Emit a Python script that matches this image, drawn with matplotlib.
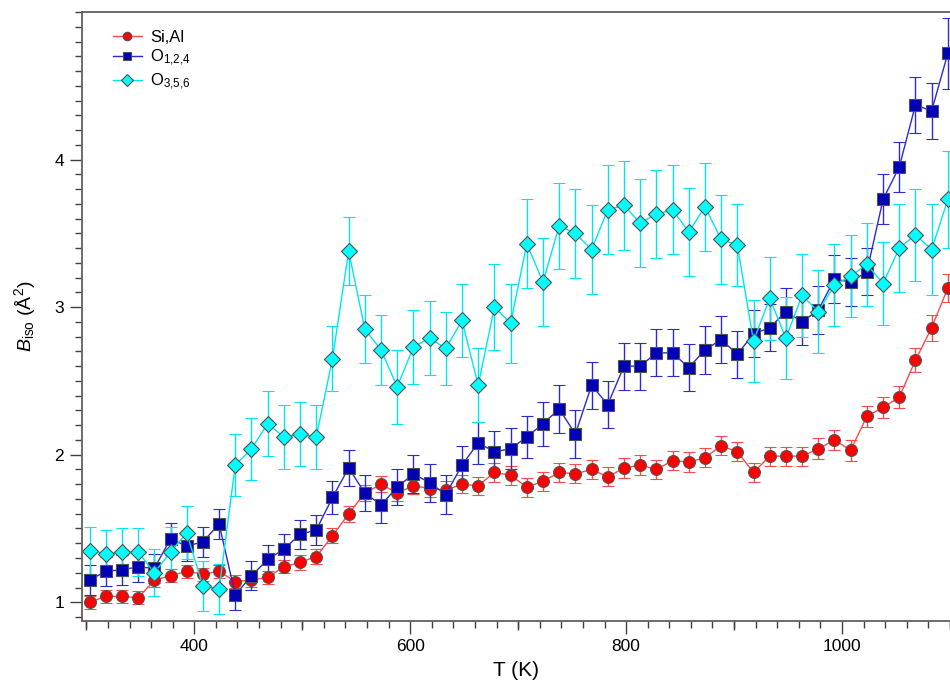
import matplotlib
matplotlib.use("Agg")
import matplotlib.pyplot as plt
from matplotlib.ticker import MultipleLocator, FixedLocator

plt.rcParams['font.family'] = ['Liberation Sans', 'DejaVu Sans']
plt.rcParams['mathtext.fontset'] = 'custom'
plt.rcParams['mathtext.rm'] = 'Liberation Sans'
plt.rcParams['mathtext.it'] = 'Liberation Sans:italic'

# ---------------- data ----------------
temperature = [303, 318, 333, 348, 363, 378, 393, 408, 423, 438,
               453, 468, 483, 498, 513, 528, 543, 558, 573, 588,
               603, 618, 633, 648, 663, 678, 693, 708, 723, 738,
               753, 768, 783, 798, 813, 828, 843, 858, 873, 888,
               903, 918, 933, 948, 963, 978, 993, 1008, 1023, 1038,
               1053, 1068, 1083, 1098]

b_sial = [1.00, 1.04, 1.04, 1.03, 1.15, 1.18, 1.21, 1.19, 1.21, 1.14,
          1.15, 1.17, 1.24, 1.27, 1.31, 1.45, 1.60, 1.74, 1.80, 1.74,
          1.79, 1.77, 1.76, 1.80, 1.79, 1.88, 1.86, 1.78, 1.82, 1.88,
          1.87, 1.90, 1.85, 1.91, 1.93, 1.90, 1.96, 1.95, 1.98, 2.06,
          2.02, 1.88, 1.99, 1.99, 1.99, 2.04, 2.10, 2.03, 2.26, 2.32,
          2.39, 2.64, 2.86, 3.13]
err_sial = [0.045, 0.045, 0.045, 0.045, 0.045, 0.045, 0.045, 0.045, 0.045, 0.045,
            0.045, 0.045, 0.045, 0.05, 0.05, 0.05, 0.055, 0.055, 0.055, 0.055,
            0.055, 0.055, 0.06, 0.06, 0.06, 0.065, 0.065, 0.065, 0.065, 0.065,
            0.065, 0.065, 0.065, 0.065, 0.065, 0.065, 0.065, 0.065, 0.065, 0.065,
            0.065, 0.065, 0.065, 0.065, 0.065, 0.07, 0.07, 0.07, 0.07, 0.07,
            0.075, 0.08, 0.09, 0.095]

b_o124 = [1.15, 1.21, 1.22, 1.24, 1.23, 1.43, 1.38, 1.41, 1.53, 1.05,
          1.18, 1.29, 1.36, 1.46, 1.49, 1.71, 1.91, 1.74, 1.66, 1.78,
          1.87, 1.81, 1.73, 1.93, 2.08, 2.02, 2.04, 2.12, 2.21, 2.31,
          2.14, 2.47, 2.34, 2.60, 2.60, 2.69, 2.69, 2.59, 2.71, 2.78,
          2.68, 2.82, 2.86, 2.97, 2.90, 2.98, 3.19, 3.17, 3.24, 3.73,
          3.95, 4.37, 4.33, 4.72]
err_o124 = [0.10, 0.10, 0.10, 0.10, 0.10, 0.11, 0.10, 0.10, 0.10, 0.10,
            0.10, 0.10, 0.10, 0.10, 0.10, 0.11, 0.12, 0.12, 0.12, 0.12,
            0.13, 0.13, 0.13, 0.13, 0.14, 0.14, 0.14, 0.14, 0.15, 0.16,
            0.16, 0.16, 0.16, 0.16, 0.16, 0.16, 0.16, 0.16, 0.16, 0.16,
            0.16, 0.16, 0.16, 0.16, 0.16, 0.16, 0.16, 0.16, 0.16, 0.17,
            0.17, 0.19, 0.19, 0.24]

b_o356 = [1.35, 1.33, 1.34, 1.34, 1.20, 1.34, 1.47, 1.11, 1.09, 1.93,
          2.04, 2.21, 2.12, 2.14, 2.12, 2.65, 3.38, 2.85, 2.71, 2.46,
          2.73, 2.79, 2.72, 2.91, 2.47, 3.00, 2.89, 3.43, 3.17, 3.55,
          3.50, 3.39, 3.66, 3.69, 3.57, 3.63, 3.66, 3.51, 3.68, 3.46,
          3.42, 2.77, 3.06, 2.79, 3.08, 2.97, 3.15, 3.21, 3.29, 3.16,
          3.40, 3.49, 3.39, 3.73]
err_o356 = [0.16, 0.16, 0.16, 0.16, 0.16, 0.17, 0.18, 0.17, 0.17, 0.21,
            0.21, 0.22, 0.22, 0.22, 0.22, 0.22, 0.23, 0.23, 0.24, 0.25,
            0.25, 0.25, 0.25, 0.25, 0.25, 0.29, 0.27, 0.30, 0.30, 0.29,
            0.30, 0.30, 0.30, 0.30, 0.30, 0.30, 0.30, 0.30, 0.30, 0.30,
            0.28, 0.28, 0.28, 0.28, 0.28, 0.28, 0.28, 0.28, 0.28, 0.28,
            0.30, 0.31, 0.31, 0.33]

series = [
    ("Si,Al", b_sial, err_sial, 'o', '#ff0000', '#ff4a4a'),
    (r"O$_{1{,}2{,}4}$", b_o124, err_o124, 's', '#0000b4', '#2b2bd0'),
    (r"O$_{3{,}5{,}6}$", b_o356, err_o356, 'D', '#00ffff', '#00e6ee'),
]

# ---------------- figure ----------------
fig = plt.figure(figsize=(9.5, 6.84), dpi=100)
ax = fig.add_axes([82 / 950, (684 - 621) / 684, 868 / 950, (621 - 12) / 684])

handles = []
for label, vals, errs, mk, mfc, lc in series:
    cont = ax.errorbar(temperature, vals, yerr=errs, fmt='-', marker=mk, color=lc,
                       mfc=mfc, mec='#505050', mew=0.8, ms=8.5, lw=1.0,
                       ecolor=lc, elinewidth=1.0, capsize=4, capthick=1.0,
                       label=label)
    handles.append(cont[0])

ax.set_xlim(296, 1100)
ax.set_ylim(0.873, 5.0)

ax.xaxis.set_major_locator(FixedLocator([400, 600, 800, 1000]))
ax.xaxis.set_minor_locator(MultipleLocator(20))
ax.yaxis.set_major_locator(FixedLocator([1, 2, 3, 4]))
ax.yaxis.set_minor_locator(MultipleLocator(0.1))

ax.tick_params(axis='both', which='major', direction='out', length=9,
               width=1.0, color='#404040', labelsize=12.5, pad=4)
ax.tick_params(axis='both', which='minor', direction='out', length=4.8,
               width=1.0, color='#404040')
ax.tick_params(top=False, right=False, which='both')

# medium ticks every 100 K on the x axis
sec = ax.secondary_xaxis('bottom')
sec.xaxis.set_major_locator(FixedLocator([300, 500, 700, 900, 1100]))
sec.xaxis.set_minor_locator(FixedLocator([]))
sec.tick_params(axis='x', which='major', direction='out', length=6.7,
                width=1.0, color='#404040', labelbottom=False)
sec.spines['bottom'].set_visible(False)

for side in ['left', 'bottom', 'top']:
    ax.spines[side].set_color('#606060')
    ax.spines[side].set_linewidth(1.3)
ax.spines['right'].set_visible(False)

ax.set_xlabel('T (K)', fontsize=15, labelpad=5)
ax.set_ylabel(r'$B_{\mathrm{iso}}$ (Å$^2$)', fontsize=14, labelpad=12)

ax.legend(handles=handles, labels=[s[0] for s in series],
          loc='upper left', bbox_to_anchor=(0.022, 0.99), frameon=False,
          fontsize=12, handlelength=1.75, handletextpad=0.5,
          labelspacing=0.2, borderaxespad=0.3, markerscale=0.72)

fig.savefig('out.png', dpi=100)
